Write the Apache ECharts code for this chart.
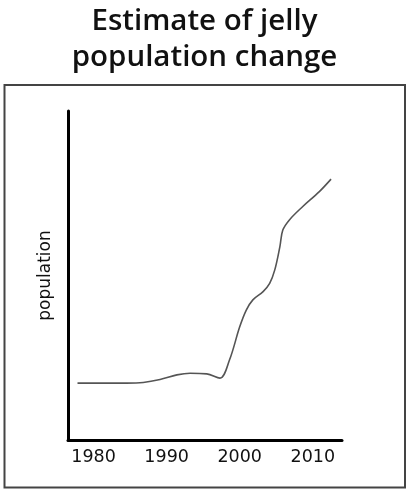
<!DOCTYPE html>
<html>
<head>
<meta charset="utf-8">
<script src="https://cdn.jsdelivr.net/npm/echarts@6/dist/echarts.min.js"></script>
<style>
html,body{margin:0;padding:0;background:#fff;}
#chart{width:409px;height:492px;}
</style>
</head>
<body>
<div id="chart"></div>
<script>
const titleText = 'Estimate of jelly\npopulation change';
const yAxisName = 'population';
const tickYears = [1980, 1990, 2000, 2010];
const years = [1977.8, 1984.5, 1986.8, 1989.1, 1991.4, 1993.2, 1995.5, 1997.3, 1998.6, 2000.0, 2000.9, 2001.8, 2003.2, 2004.1, 2004.8, 2005.5, 2005.9, 2006.8, 2008.6, 2010.9, 2012.5];
const population = [17.3, 17.3, 17.5, 18.4, 19.8, 20.3, 20.1, 18.8, 24.3, 34.4, 39.5, 42.6, 45.1, 47.6, 51.7, 58.8, 63.8, 66.9, 70.9, 75.5, 79.3];

const chart = echarts.init(document.getElementById('chart'));
const titleFont = 'Open Sans';
const font = 'DejaVu Sans';
chart.setOption({
  backgroundColor: '#fff',
  animation: false,
  title: {
    text: titleText,
    left: 'center',
    top: -1,
    textStyle: { fontFamily: titleFont, fontSize: 29.5, fontWeight: 600, color: '#111', lineHeight: 36 }
  },
  graphic: [{
    type: 'rect',
    shape: { x: 4.5, y: 85, width: 400.5, height: 402.5 },
    style: { fill: 'none', stroke: '#444', lineWidth: 2 },
    z: -1
  }],
  grid: { left: 68, right: 67, top: 111, bottom: 52 },
  xAxis: {
    type: 'value',
    min: 1976.5,
    max: 2014,
    axisLine: { show: true, onZero: false, lineStyle: { color: '#000', width: 3 } },
    axisTick: { show: false },
    splitLine: { show: false },
    axisLabel: {
      customValues: tickYears,
      formatter: v => String(v),
      margin: 8,
      fontFamily: font,
      fontSize: 17.5,
      color: '#111'
    }
  },
  yAxis: {
    type: 'value',
    min: 0,
    max: 100,
    name: yAxisName,
    nameLocation: 'middle',
    nameGap: 14,
    nameTextStyle: { fontFamily: font, fontSize: 17, color: '#111' },
    axisLine: { show: true, lineStyle: { color: '#000', width: 3 } },
    axisTick: { show: false },
    axisLabel: { show: false },
    splitLine: { show: false }
  },
  series: [{
    type: 'line',
    data: years.map((y, i) => [y, population[i]]),
    smooth: 0.35,
    showSymbol: false,
    lineStyle: { color: '#555', width: 1.6 }
  }]
});
</script>
</body>
</html>
